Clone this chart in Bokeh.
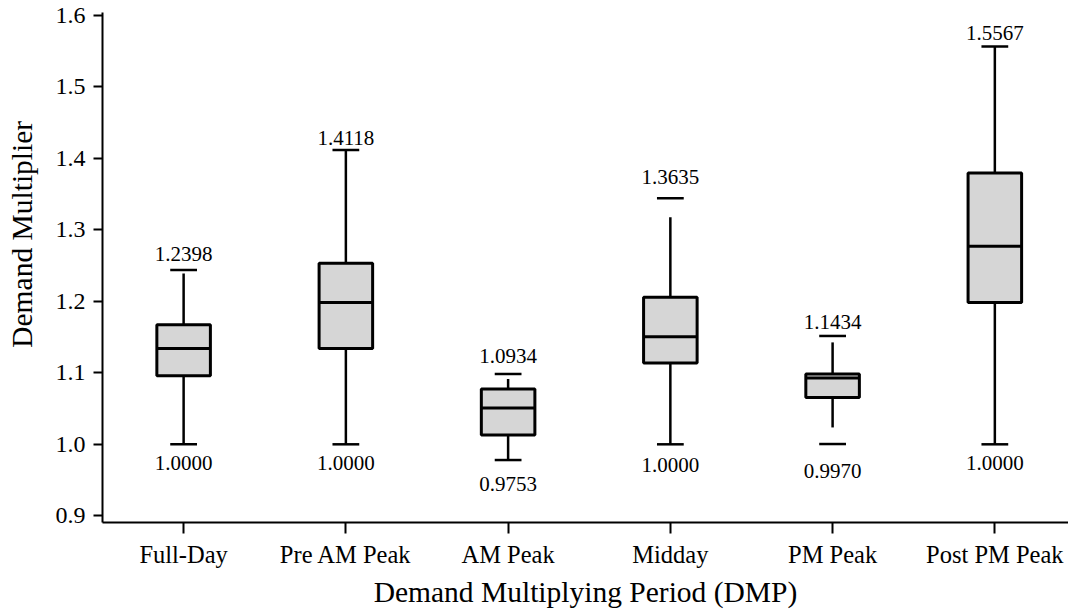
from bokeh.plotting import figure
from bokeh.models import ColumnDataSource, Range1d, FixedTicker, PrintfTickFormatter
from bokeh.core.properties import value
from bokeh.embed import file_html
from bokeh.resources import INLINE

categories = ["Full-Day", "Pre AM Peak", "AM Peak", "Midday", "PM Peak", "Post PM Peak"]
q1 = [1.096, 1.1342, 1.013, 1.1138, 1.0656, 1.1986]
median = [1.134, 1.1986, 1.0508, 1.1506, 1.0928, 1.277]
q3 = [1.1674, 1.2532, 1.0774, 1.2056, 1.0984, 1.3798]
whisker_low = [1.0, 1.0, 0.9794, 1.0, 1.0236, 1.0]
whisker_high = [1.239, 1.4118, 1.0914, 1.3176, 1.1426, 1.5567]
cap_low = [1.0, 1.0, 0.978, 1.0, 1.0004, 1.0]
cap_high = [1.244, 1.4118, 1.0984, 1.3442, 1.1516, 1.5567]
label_high = ["1.2398", "1.4118", "1.0934", "1.3635", "1.1434", "1.5567"]
label_low = ["1.0000", "1.0000", "0.9753", "1.0000", "0.9970", "1.0000"]
y_ticks = [0.9, 1.0, 1.1, 1.2, 1.3, 1.4, 1.5, 1.6]

# label pixel offsets (style)
off_hi = [-16, -12, -18, -21, -14, -13]
off_lo = [19, 19, 24, 21, 27, 19]

FONT = "Liberation Serif"
idx = list(range(len(categories)))
box_w = 0.33
cap_w = 0.165

src = ColumnDataSource(dict(
    x=idx, q1=q1, med=median, q3=q3, wl=whisker_low, wh=whisker_high,
    cl=cap_low, ch=cap_high,
    x0=[i - box_w / 2 for i in idx], x1=[i + box_w / 2 for i in idx],
    c0=[i - cap_w / 2 for i in idx], c1=[i + cap_w / 2 for i in idx],
    lh=label_high, ll=label_low, oh=off_hi, ol=off_lo,
))

p = figure(width=1068, height=610, output_backend="svg", toolbar_location=None,
           x_range=Range1d(-0.5, 5.454), y_range=Range1d(0.8906, 1.6042),
           min_border_left=102, min_border_right=0, min_border_top=12, min_border_bottom=88)
p.outline_line_color = None
p.grid.visible = False
p.background_fill_color = "white"
p.border_fill_color = "white"

# whiskers
p.segment(x0="x", y0="q3", x1="x", y1="wh", source=src, line_color="black", line_width=2.5)
p.segment(x0="x", y0="q1", x1="x", y1="wl", source=src, line_color="black", line_width=2.5)
# caps
p.segment(x0="c0", y0="ch", x1="c1", y1="ch", source=src, line_color="black", line_width=2.5)
p.segment(x0="c0", y0="cl", x1="c1", y1="cl", source=src, line_color="black", line_width=2.5)
# boxes
p.vbar(x="x", width=box_w, bottom="q1", top="q3", source=src,
       fill_color="#d6d6d6", line_color="black", line_width=3)
p.segment(x0="x0", y0="med", x1="x1", y1="med", source=src, line_color="black", line_width=3)

# labels
p.text(x="x", y="ch", text="lh", y_offset="oh", source=src, text_align="center",
       text_baseline="middle", text_font=value(FONT), text_font_size="21px", text_color="black")
p.text(x="x", y="cl", text="ll", y_offset="ol", source=src, text_align="center",
       text_baseline="middle", text_font=value(FONT), text_font_size="21px", text_color="black")

xa = p.xaxis[0]
xa.ticker = FixedTicker(ticks=idx)
xa.major_label_overrides = {i: c for i, c in zip(idx, categories)}
xa.axis_label = "Demand Multiplying Period (DMP)"
xa.major_tick_out = 11
xa.major_tick_in = 0
xa.minor_tick_out = 0
xa.minor_tick_in = 0
xa.major_label_standoff = 7
xa.axis_label_standoff = 5

ya = p.yaxis[0]
ya.ticker = FixedTicker(ticks=y_ticks)
ya.formatter = PrintfTickFormatter(format="%.1f")
# leading non-breaking spaces shift the centred title upward, as in the reference
ya.axis_label = "\u00a0" * 9 + "Demand Multiplier"
ya.major_tick_out = 9
ya.major_tick_in = 0
ya.minor_tick_out = 0
ya.minor_tick_in = 0
ya.major_label_standoff = 8
ya.axis_label_standoff = 15

for ax in (xa, ya):
    ax.axis_line_color = "black"
    ax.axis_line_width = 2
    ax.major_tick_line_color = "black"
    ax.major_tick_line_width = 2
    ax.major_label_text_font = FONT
    ax.major_label_text_color = "black"
    ax.axis_label_text_font = FONT
    ax.axis_label_text_font_size = "29.5px"
    ax.axis_label_text_font_style = "normal"
    ax.axis_label_text_color = "black"
xa.major_label_text_font_size = "24.5px"
ya.major_label_text_font_size = "24px"

open("out.html", "w").write(file_html(p, INLINE))
